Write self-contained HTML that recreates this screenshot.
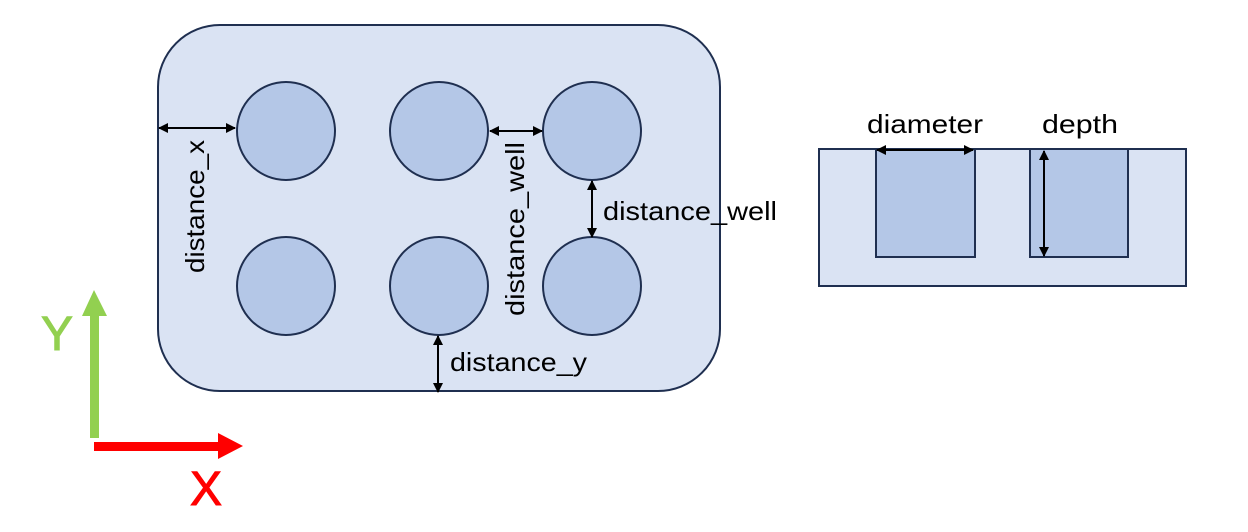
<!DOCTYPE html>
<html><head><meta charset="utf-8"><style>
html,body{margin:0;padding:0;background:#fff;width:1248px;height:532px;overflow:hidden}
text{font-family:"Liberation Sans",sans-serif}
</style></head><body>
<svg width="1248" height="532" viewBox="0 0 1248 532">
<defs>
<marker id="ah" viewBox="0 0 10 10" refX="9" refY="5" markerWidth="5" markerHeight="5" orient="auto-start-reverse"><path d="M0,0 L10,5 L0,10 z" fill="#000"/></marker>
</defs>
<rect x="158" y="25" width="562" height="366" rx="62" fill="#dae3f3" stroke="#1f2f50" stroke-width="2"/>
<g fill="#b4c7e7" stroke="#1f2f50" stroke-width="2">
<circle cx="286" cy="131" r="49"/>
<circle cx="439" cy="131" r="49"/>
<circle cx="592" cy="131" r="49"/>
<circle cx="286" cy="286" r="49"/>
<circle cx="439" cy="286" r="49"/>
<circle cx="592" cy="286" r="49"/>
</g>
<g stroke="#000" stroke-width="2" fill="none">
<line x1="159" y1="128" x2="235" y2="128" marker-start="url(#ah)" marker-end="url(#ah)"/>
<line x1="490" y1="131" x2="542" y2="131" marker-start="url(#ah)" marker-end="url(#ah)"/>
<line x1="592" y1="181" x2="592" y2="237" marker-start="url(#ah)" marker-end="url(#ah)"/>
<line x1="438" y1="336" x2="438" y2="392" marker-start="url(#ah)" marker-end="url(#ah)"/>
</g>
<text transform="translate(204,273) rotate(-90)" font-size="26" textLength="133" lengthAdjust="spacingAndGlyphs">distance_x</text>
<text transform="translate(524,316) rotate(-90)" font-size="26" textLength="174" lengthAdjust="spacingAndGlyphs">distance_well</text>
<text x="603" y="220" font-size="26" textLength="174" lengthAdjust="spacingAndGlyphs">distance_well</text>
<text x="450" y="371" font-size="26" textLength="137" lengthAdjust="spacingAndGlyphs">distance_y</text>
<rect x="819" y="149" width="367" height="137" fill="#dae3f3" stroke="#1f2f50" stroke-width="2"/>
<rect x="876" y="149" width="99" height="108" fill="#b4c7e7" stroke="#1f2f50" stroke-width="2"/>
<rect x="1030" y="149" width="98" height="108" fill="#b4c7e7" stroke="#1f2f50" stroke-width="2"/>
<line x1="877" y1="150" x2="973" y2="150" stroke="#000" stroke-width="2" marker-start="url(#ah)" marker-end="url(#ah)"/>
<line x1="1044" y1="151" x2="1044" y2="256" stroke="#000" stroke-width="2" marker-start="url(#ah)" marker-end="url(#ah)"/>
<text x="867" y="133" font-size="26" textLength="116" lengthAdjust="spacingAndGlyphs">diameter</text>
<text x="1042" y="133" font-size="26" textLength="76" lengthAdjust="spacingAndGlyphs">depth</text>
<g>
<rect x="90" y="312" width="9" height="126" fill="#92d050"/>
<polygon points="82,316 94,290 107,316" fill="#92d050"/>
</g>
<g>
<rect x="94" y="442" width="126" height="9" fill="#ff0000"/>
<polygon points="218,433 243,446 218,459" fill="#ff0000"/>
</g>
<text x="57" y="350" text-anchor="middle" font-size="48" fill="#92d050" stroke="#92d050" stroke-width="1">Y</text>
<text x="206" y="505" text-anchor="middle" font-size="48" fill="#ff0000" stroke="#ff0000" stroke-width="1">X</text>
</svg>
</body></html>
